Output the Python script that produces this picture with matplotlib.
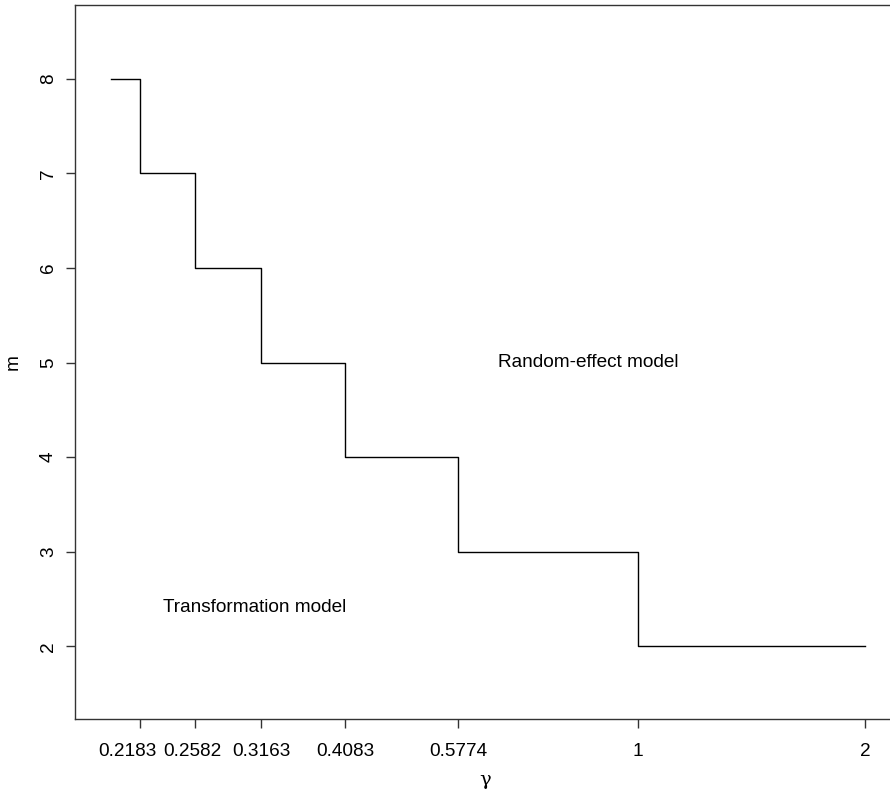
import matplotlib
matplotlib.use('Agg')
import matplotlib.pyplot as plt
import matplotlib.transforms as mtransforms
from matplotlib.ticker import NullLocator

plt.rcParams['font.family'] = ['Liberation Sans', 'DejaVu Sans']

# step boundary between the two models
gamma = [0.2, 0.2183, 0.2582, 0.3163, 0.4083, 0.5774, 1, 2]
m_vals = [8, 7, 6, 5, 4, 3, 2, 2]
tick_vals = [0.2183, 0.2582, 0.3163, 0.4083, 0.5774, 1, 2]
tick_labels = ['0.2183', '0.2582', '0.3163', '0.4083', '0.5774', '1', '2']
y_ticks = [2, 3, 4, 5, 6, 7, 8]

fig = plt.figure(figsize=(8.9, 7.89), dpi=100)
ax = fig.add_axes([0.0843, 0.0891, 0.9213, 0.9046])

ax.step(gamma, m_vals, where='post', color='black', linewidth=1.0)
ax.set_xscale('log')
ax.set_xlim(0.179, 2.192)
ax.set_ylim(1.235, 8.78)

ax.xaxis.set_minor_locator(NullLocator())
ax.set_xticks(tick_vals)
ax.set_xticklabels(tick_labels)
ax.set_yticks(y_ticks)
ax.set_yticklabels([str(v) for v in y_ticks], rotation=90, va='center')
ax.tick_params(axis='both', direction='out', length=6.5, width=1, labelsize=13.7,
               color='#333333')
ax.tick_params(axis='x', pad=11)
ax.tick_params(axis='y', pad=6.5)

# the first two labels sit a little left of their ticks, as in the original
for lab, dx in zip(ax.get_xticklabels()[:2], [-13, -3]):
    off = mtransforms.ScaledTranslation(dx / 100, 0, fig.dpi_scale_trans)
    lab.set_transform(lab.get_transform() + off)

ax.spines['right'].set_visible(False)
for s in ['left', 'bottom', 'top']:
    ax.spines[s].set_linewidth(1.0)
    ax.spines[s].set_color('#333333')

ax.set_xlabel('\u03b3', fontsize=14, family=['DejaVu Serif'], labelpad=8)
ax.set_ylabel('m', fontsize=13.7, labelpad=13)

ax.text(0.86, 5, 'Random-effect model', fontsize=13.7, ha='center', va='center')
ax.text(0.310, 2.41, 'Transformation model', fontsize=13.7, ha='center', va='center')

fig.savefig('out.png', dpi=100)
